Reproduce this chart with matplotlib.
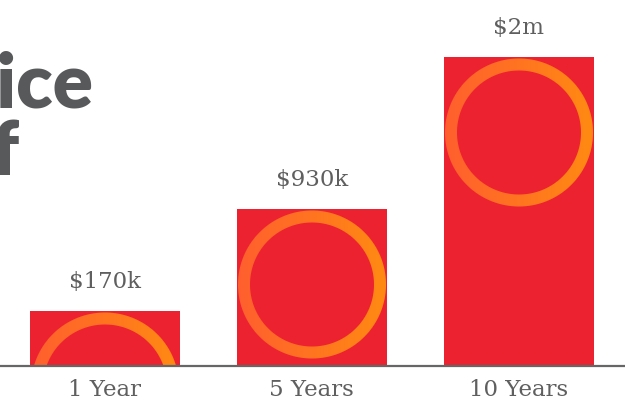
import numpy as np
import matplotlib
matplotlib.use("Agg")
import matplotlib.pyplot as plt
from matplotlib.colors import to_rgb

# chart data
categories = ["1 Year", "5 Years", "10 Years"]
value_labels = ["$170k", "$930k", "$2m"]
bar_heights = [55, 157, 309]  # displayed heights (not to scale in the original)

BAR_RED = "#ED2230"
RING_LEFT = "#FF5F2E"
RING_RIGHT = "#FF8A12"
TEXT_GRAY = "#5f5f5f"
TITLE_GRAY = "#58595B"

W, H, DPI = 630, 408, 100
fig = plt.figure(figsize=(W / DPI, H / DPI), dpi=DPI)

base_px = 42  # baseline distance from bottom
ax = fig.add_axes([0, base_px / H, 1, (H - base_px) / H])
spacing = 206.75
ax.set_xlim(-105 / spacing, (W - 105) / spacing)
ax.set_ylim(0, H - base_px)
ax.axis("off")

bar_w = 150 / spacing
x = np.arange(len(categories))
ax.bar(x, bar_heights, width=bar_w, color=BAR_RED, zorder=1)

# gradient ring inside each bar, clipped to the bar
c_left = np.array(to_rgb(RING_LEFT))
c_right = np.array(to_rgb(RING_RIGHT))
r_out, thick = 74, 12
for xi, h in zip(x, bar_heights):
    pw, ph = 150, int(h)
    cx = pw / 2
    cy = 1.5 + r_out  # rows counted from the top: ring touches bar top
    yy, xx = np.mgrid[0:ph, 0:pw] + 0.5
    d = np.hypot(xx - cx, yy - cy)
    alpha = np.clip(0.5 + np.minimum(d - (r_out - thick), r_out - d), 0, 1)
    t = np.clip((xx - (cx - r_out)) / (2 * r_out), 0, 1)[..., None]
    rgb = c_left * (1 - t) + c_right * t
    img = np.dstack([rgb, alpha])
    ax.imshow(img, extent=[xi - bar_w / 2, xi + bar_w / 2, 0, h],
              aspect="auto", origin="upper", zorder=2, interpolation="bilinear")

    # value label above the bar
    ax.text(xi, h + 18, value_labels[xi], ha="center", va="bottom",
            fontsize=16.5, family="DejaVu Serif", color=TEXT_GRAY)

# baseline
ax.plot([-105 / spacing, (625 - 105) / spacing], [0, 0], color="#666666",
        lw=1.6, solid_capstyle="butt", zorder=3, clip_on=False)

# category labels
for xi, lab in zip(x, categories):
    fig.text((105 + xi * spacing) / W, 18 / H, lab, ha="center", va="center",
             fontsize=16.5, family="DejaVu Serif", color=TEXT_GRAY)

# cut-off title on the left
fig.text(94 / W, (H - 108) / H, "Price", ha="right", va="baseline",
         fontsize=54, family="Lato", fontweight="heavy", color=TITLE_GRAY)
fig.text(19 / W, (H - 175) / H, "of", ha="right", va="baseline",
         fontsize=54, family="Lato", fontweight="heavy", color=TITLE_GRAY)

fig.savefig("out.png", dpi=DPI)
